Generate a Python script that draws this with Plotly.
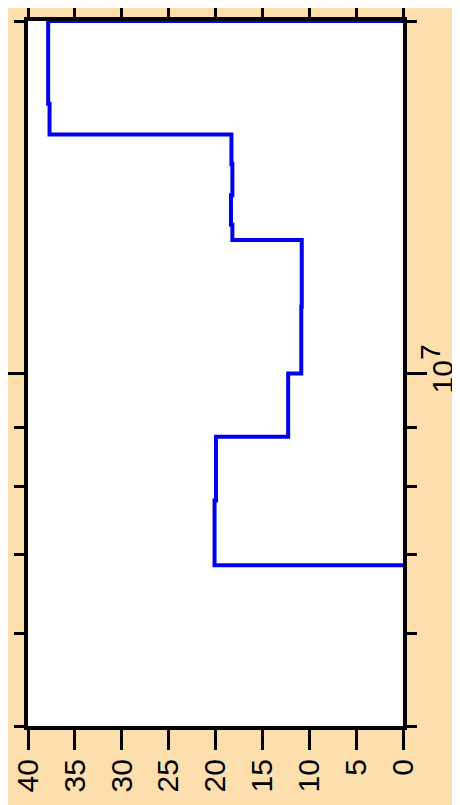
import plotly.graph_objects as go

# histogram bin edges (log axis) and counts
bin_edges = [6.86e6, 7.79e6, 8.83e6, 1.0e7, 1.14e7, 1.30e7, 1.34e7, 1.42e7, 1.51e7, 1.60e7, 1.70e7, 2.0e7]
counts = [20.1, 19.95, 12.25, 10.85, 10.8, 18.2, 18.35, 18.2, 18.3, 37.7, 37.85]

value_ticks = [0, 5, 10, 15, 20, 25, 30, 35, 40]
log_major = [1e7]
log_major_text = ["10<sup><span style='font-size:28px'>7</span></sup>"]
log_minor = [5e6, 6e6, 7e6, 8e6, 9e6, 2e7]

# step outline: horizontal then vertical
xs = [0] + counts + [0]
ys = [bin_edges[0]] + bin_edges[1:] + [bin_edges[-1]]

fig = go.Figure()
fig.add_trace(go.Scatter(x=xs, y=ys, mode="lines", line=dict(color="#0000ee", width=4, shape="hv"),
                         showlegend=False, hoverinfo="skip"))

font = dict(family="Liberation Sans, Arial, sans-serif", size=30, color="black")

# page body has an 8px margin, so the margins are trimmed to land the frame where the reference has it
fig.update_layout(
    width=460, height=805,
    margin=dict(l=20, r=65, t=13, b=87),
    paper_bgcolor="#fddead",
    plot_bgcolor="white",
    font=font,
    xaxis=dict(range=[40, 0], tickvals=value_ticks, ticktext=[str(v) for v in value_ticks],
               tickangle=-90, ticks="outside", ticklen=20, tickwidth=3, tickcolor="black",
               showline=True, linewidth=4, linecolor="black", mirror="ticks",
               showgrid=False, zeroline=False, layer="below traces", tickfont=font,
               ticklabelstandoff=-3, automargin=False),
    yaxis=dict(type="log", range=[6.69897, 7.30103], side="right",
               tickvals=log_major, ticktext=log_major_text, tickangle=-90,
               ticks="outside", ticklen=20, tickwidth=3, tickcolor="black",
               minor=dict(tickvals=log_minor, ticks="outside", ticklen=10, tickwidth=3, tickcolor="black"),
               showline=True, linewidth=4, linecolor="black", mirror="ticks",
               showgrid=False, zeroline=False, layer="below traces", tickfont=font,
               ticklabelstandoff=-10, automargin=False),
)

fig.write_html("out.html")
